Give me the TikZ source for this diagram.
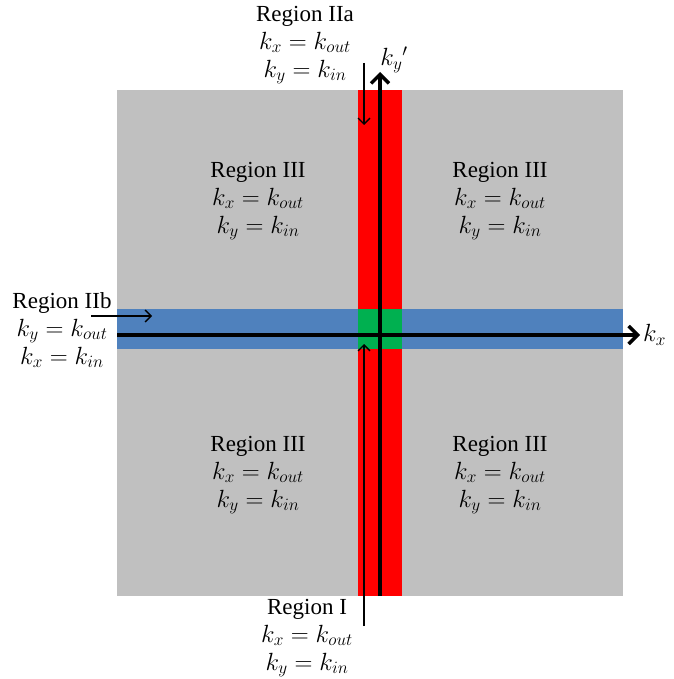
\documentclass[tikz,border=0pt]{standalone}
\usepackage{fontspec}
\setmainfont{Liberation Serif}
\usetikzlibrary{arrows.meta}
\definecolor{regiongray}{RGB}{192,192,192}
\definecolor{stripred}{RGB}{255,0,0}
\definecolor{stripblue}{RGB}{79,129,189}
\definecolor{stripgreen}{RGB}{0,176,80}
\newcommand{\mq}[1]{{\fontsize{24}{28}\selectfont$#1$}}
\tikzset{
  lbl/.style={align=center, font=\fontsize{23}{28}\selectfont, inner sep=0pt},
  axis/.style={line width=3.5pt, -{Straight Barb[length=9pt,width=18pt,line width=3.5pt]}},
  thin/.style={line width=1.3pt, -{Straight Barb[length=6pt,width=12pt,line width=1.3pt]}},
}
\begin{document}
\begin{tikzpicture}[x=1pt,y=-1pt]
\useasboundingbox (0,0) rectangle (673,679);
\fill[regiongray] (117,90) rectangle (623,596);
\fill[stripred] (358,90) rectangle (402,596);
\fill[stripblue] (117,309) rectangle (623,349);
\fill[stripgreen] (358,309) rectangle (402,349);
% axes
\coordinate (ybot) at (380,596);
\coordinate (ytop) at (380,72);
\coordinate (xleft) at (117,335);
\coordinate (xright) at (640,335);
\draw[axis] (xleft) -- (xright);
\draw[axis] (ybot) -- (ytop);
\node[lbl, anchor=west] (kx) at (643,335) {\mq{k_x}};
\node[lbl] (ky) at (394,60) {\mq{k_y{}'}};
% labels
\node[lbl] (r2a) at (305,45) {Region IIa\\\mq{k_x=k_{out}}\\\mq{k_y=k_{in}}};
\node[lbl] (r2b) at (62,330) {Region IIb\\\mq{k_y=k_{out}}\\\mq{k_x=k_{in}}};
\node[lbl] (r1) at (307,638) {Region I\\\mq{k_x=k_{out}}\\\mq{k_y=k_{in}}};
\node[lbl] (r3a) at (258,201) {Region III\\\mq{k_x=k_{out}}\\\mq{k_y=k_{in}}};
\node[lbl] (r3b) at (500,201) {Region III\\\mq{k_x=k_{out}}\\\mq{k_y=k_{in}}};
\node[lbl] (r3c) at (258,475) {Region III\\\mq{k_x=k_{out}}\\\mq{k_y=k_{in}}};
\node[lbl] (r3d) at (500,475) {Region III\\\mq{k_x=k_{out}}\\\mq{k_y=k_{in}}};
% thin arrows
\coordinate (a1s) at (364,63);
\coordinate (a1e) at (364,125);
\coordinate (a2s) at (91,316);
\coordinate (a2e) at (152,316);
\coordinate (a3s) at (364,626);
\coordinate (a3e) at (364,344);
\draw[thin] (a1s) -- (a1e);
\draw[thin] (a2s) -- (a2e);
\draw[thin] (a3s) -- (a3e);
\end{tikzpicture}
\end{document}
